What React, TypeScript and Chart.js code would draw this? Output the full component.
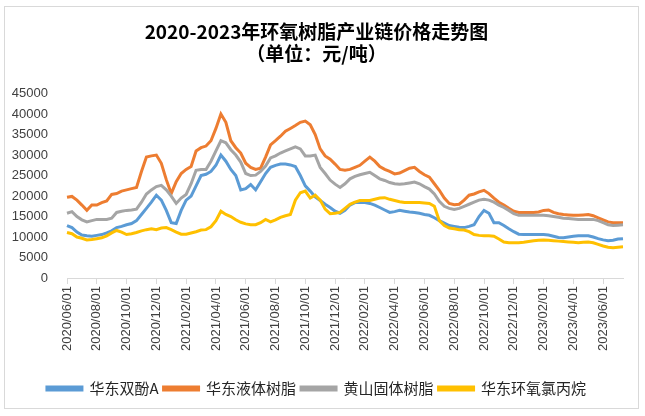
import React, { useEffect, useRef } from "react";
import { Chart, registerables } from "chart.js";

Chart.register(...registerables);

// categories: 10-day sampling from 2020/06/01 to 2023/07/11
function buildDates(): string[] {
  const out: string[] = [];
  let y = 2020, m = 6;
  while (true) {
    for (const d of ["01", "11", "21"]) {
      const s = `${y}/${String(m).padStart(2, "0")}/${d}`;
      out.push(s);
      if (s === "2023/07/11") return out;
    }
    m++;
    if (m > 12) { m = 1; y++; }
  }
}
const dates: string[] = buildDates();

const seriesNames: string[] = ["华东双酚A", "华东液体树脂", "黄山固体树脂", "华东环氧氯丙烷"];
const seriesColors: string[] = ["#5B9BD5", "#ED7D31", "#A5A5A5", "#FFC000"];

const bpaEast: number[] = [
  12800, 12300, 11200, 10500, 10300, 10200, 10400, 10600, 11000, 11500, 12300, 12600,
  13000, 13300, 14000, 15500, 17000, 18500, 20200, 19000, 16500, 13500, 13300, 16500,
  19000, 20000, 22500, 25000, 25300, 26000, 27500, 30000, 28500, 26500, 25000, 21500,
  21800, 22800, 21500, 23500, 25500, 27000, 27500, 27800, 27800, 27600, 27200, 25000,
  22500, 21200, 19800, 18900, 18000, 17200, 16300, 15800, 16500, 17800, 18400, 18400,
  18400, 18200, 17800, 17200, 16600, 16000, 16200, 16500, 16300, 16100, 16000, 15800,
  15500, 15300, 14700, 14000, 13400, 12800, 12600, 12400, 12300, 12600, 13000, 15000,
  16500, 15800, 13500, 13500, 12800, 12000, 11300, 10700, 10600, 10600, 10600, 10600,
  10600, 10500, 10200, 9900, 9800, 10000, 10200, 10300, 10300, 10300, 10000, 9600,
  9300, 9100, 9200, 9500, 9600,
];

const liquidResinEast: number[] = [
  19700, 19900, 19000, 17800, 16500, 17800, 17800, 18400, 18800, 20400, 20600, 21200,
  21500, 21800, 22100, 26000, 29500, 29800, 30000, 28000, 24000, 20600, 23500, 25500,
  26500, 27200, 31000, 31800, 32200, 33500, 36500, 40000, 38000, 33500, 31800, 30500,
  28000, 27000, 26500, 26800, 29500, 32500, 33500, 34600, 35800, 36500, 37200, 38000,
  38300, 37400, 35000, 31500, 29800, 29000, 27800, 26500, 26300, 26500, 27000, 27500,
  28500, 29500, 28500, 27200, 26500, 26000, 25400, 25600, 26200, 26800, 27000, 26000,
  25200, 24600, 23000, 21400, 19500, 18200, 17900, 18000, 19000, 20200, 20500, 21000,
  21400, 20600, 19500, 18500, 17800, 17000, 16300, 16000, 16000, 16000, 16000, 16100,
  16500, 16600, 16000, 15700, 15500, 15400, 15300, 15300, 15400, 15500, 15200, 14700,
  14200, 13700, 13500, 13500, 13500,
];

const solidResinHuangshan: number[] = [
  15800, 16200, 15000, 14200, 13700, 14000, 14300, 14300, 14300, 14600, 16000, 16300,
  16500, 16600, 16800, 18500, 20500, 21500, 22300, 22600, 21500, 20000, 18200, 19500,
  20400, 23000, 26300, 26500, 26500, 28500, 31000, 33500, 33000, 31300, 30000, 28300,
  25500, 25000, 25100, 26000, 27300, 29300, 29800, 30500, 31000, 31500, 32000, 31500,
  29800, 29800, 30000, 27000, 25500, 23900, 22900, 22100, 23000, 24200, 24800, 25200,
  25500, 25800, 25000, 24200, 23800, 23300, 23000, 22900, 23000, 23200, 23400, 23000,
  22300, 21700, 20500, 18700, 17500, 17000, 16700, 17000, 17500, 18000, 18500, 19000,
  19200, 19000, 18500, 17800, 17200, 16500, 15700, 15300, 15300, 15300, 15300, 15300,
  15300, 15200, 15000, 14800, 14600, 14500, 14400, 14300, 14300, 14300, 14300, 14000,
  13500, 13000, 12800, 12900, 13000,
];

const echEast: number[] = [
  11100, 10800, 10000, 9700, 9300, 9400, 9600, 9800, 10300, 11000, 11600, 11200,
  10600, 10800, 11100, 11500, 11800, 12000, 11800, 12200, 12300, 11800, 11200, 10700,
  10700, 11000, 11300, 11700, 11800, 12500, 14000, 16300, 15500, 15000, 14200, 13600,
  13200, 13000, 13000, 13500, 14300, 13700, 14200, 14800, 15200, 15500, 19000, 20800,
  21200, 19500, 20200, 19000, 16800, 15700, 15800, 16000, 17000, 18000, 18500, 18900,
  18900, 18900, 19200, 19500, 19600, 19200, 18900, 18600, 18400, 18400, 18400, 18400,
  18300, 18200, 17500, 14000, 12800, 12200, 12000, 11800, 11700, 11300, 10600, 10400,
  10300, 10300, 10200, 9500, 8800, 8600, 8600, 8600, 8700, 8900, 9100, 9200,
  9300, 9200, 9100, 9000, 8900, 8800, 8700, 8600, 8700, 8800, 8600, 8200,
  7800, 7500, 7400, 7500, 7600,
];

const titleLines: string[] = ["2020-2023年环氧树脂产业链价格走势图", "（单位：元/吨）"];

export default function App() {
  const ref = useRef<HTMLCanvasElement | null>(null);
  useEffect(() => {
    if (!ref.current) return;
    const values = [bpaEast, liquidResinEast, solidResinHuangshan, echEast];
    const chart = new Chart(ref.current, {
      type: "line",
      data: {
        labels: dates,
        datasets: values.map((v, i) => ({
          label: seriesNames[i],
          data: v,
          borderColor: seriesColors[i],
          backgroundColor: seriesColors[i],
          borderWidth: 3,
          pointRadius: 0,
          tension: 0,
          order: 4 - i,
        })),
      },
      options: {
        animation: false,
        responsive: false,
        maintainAspectRatio: false,
        layout: { padding: { left: 10, right: 22, top: 0, bottom: 10 } },
        plugins: {
          title: {
            display: true,
            text: titleLines,
            color: "#000",
            font: { family: "'Noto Sans CJK SC', sans-serif", size: 19, weight: "bold", lineHeight: 1.2 },
            padding: { top: 20, bottom: 28 },
          },
          legend: {
            position: "bottom",
            labels: {
              sort: (a: any, b: any) => a.datasetIndex - b.datasetIndex,
              boxWidth: 35,
              boxHeight: 3,
              padding: 5,
              color: "#262626",
              font: { family: "'Noto Sans CJK SC', sans-serif", size: 15 },
            },
          },
          tooltip: { enabled: false },
        },
        scales: {
          x: {
            type: "category",
            offset: false,
            grid: { display: true, drawOnChartArea: false, drawTicks: true, tickLength: 6, color: "#d9d9d9" },
            border: { display: true, color: "#d9d9d9" },
            ticks: {
              autoSkip: false,
              maxRotation: 90,
              minRotation: 90,
              padding: 2,
              color: "#404040",
              font: { family: "'Liberation Sans', Arial, sans-serif", size: 13 },
              callback: (_v: any, idx: number) => {
                const s = dates[idx];
                const mm = parseInt(s.slice(5, 7), 10);
                return s.endsWith("/01") && mm % 2 === 0 ? s : null;
              },
            },
            afterFit: (scale: any) => { scale.height = 98; },
          },
          y: {
            min: 0,
            max: 45000,
            grid: { display: false },
            border: { display: false },
            ticks: {
              stepSize: 5000,
              padding: 11,
              color: "#404040",
              font: { family: "'Liberation Sans', Arial, sans-serif", size: 13 },
              callback: (v: any) => String(v),
            },
            afterFit: (scale: any) => { scale.width = 57; },
          },
        },
      },
    });
    return () => chart.destroy();
  }, []);

  return (
    <div style={{ position: "fixed", left: 0, top: 0, width: 645, height: 416, background: "#fff" }}>
      <div style={{ position: "absolute", left: 4, top: 6, width: 635, height: 403, border: "1px solid #d9d9d9", boxSizing: "border-box" }} />
      <canvas ref={ref} width={645} height={416} style={{ position: "absolute", left: 0, top: 0, width: 645, height: 416 }} />
    </div>
  );
}
